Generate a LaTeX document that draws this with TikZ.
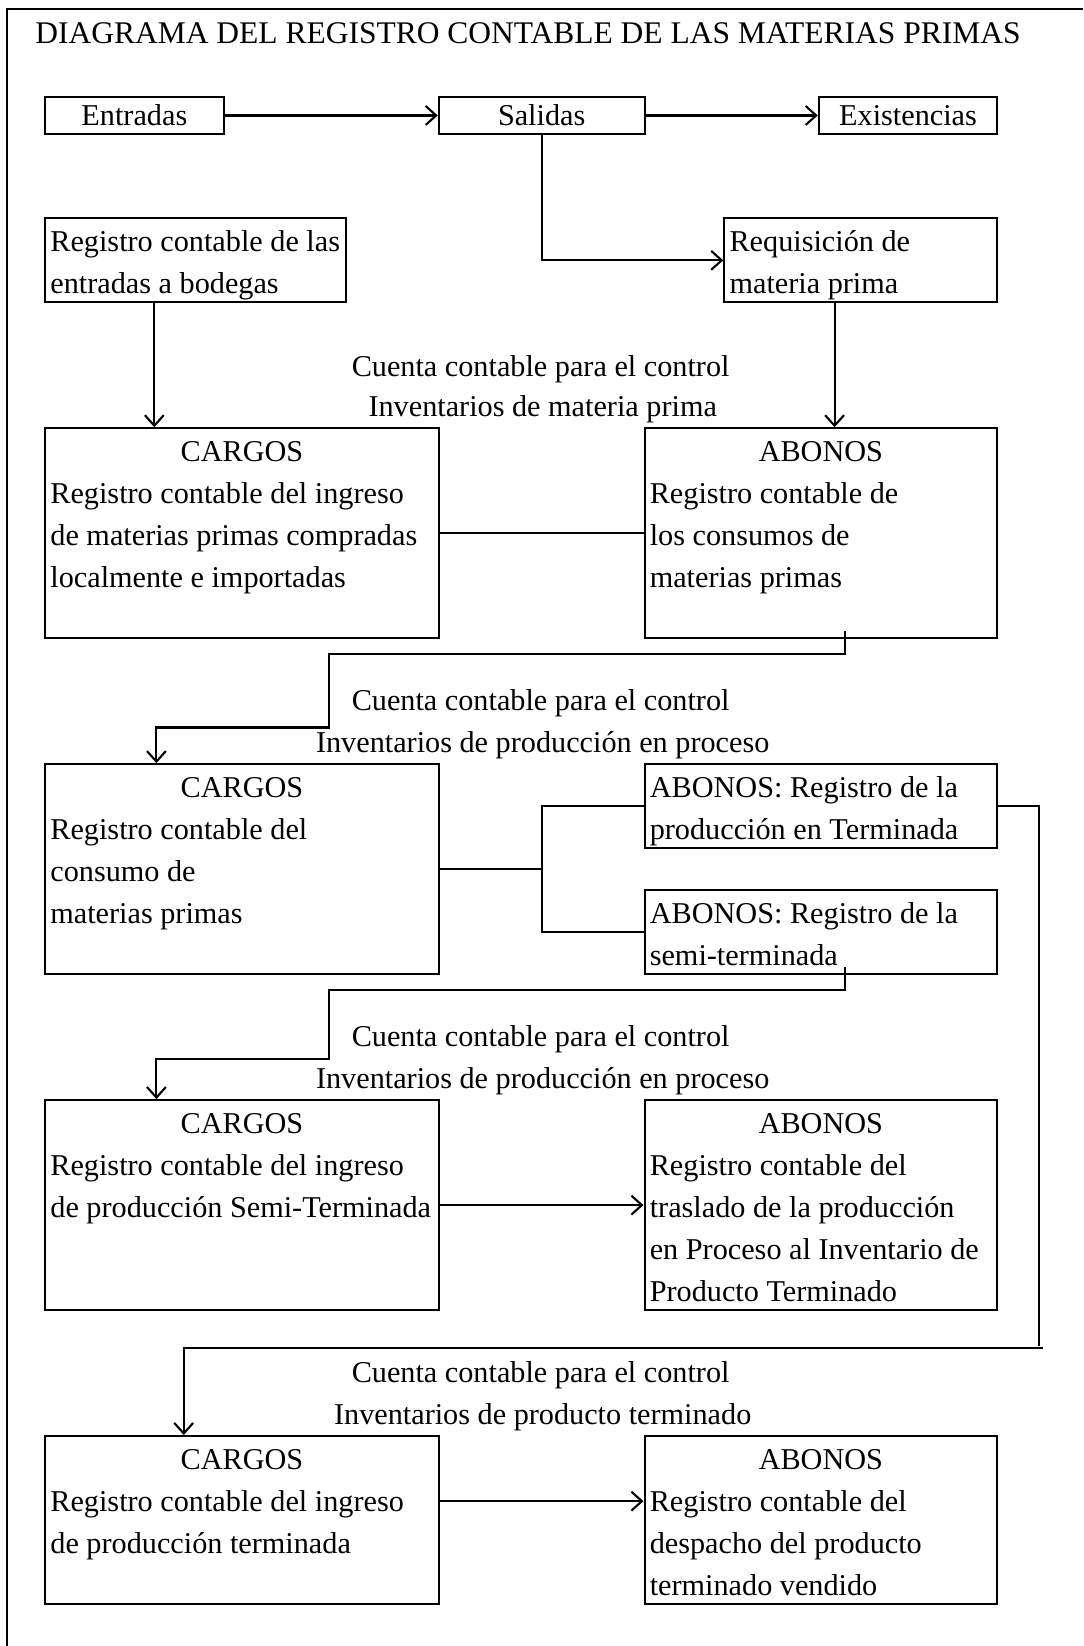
\documentclass[tikz,border=0pt]{standalone}
\usepackage{fontspec}
\setmainfont{Liberation Serif}
\usetikzlibrary{arrows.meta}

\newlength{\anchobloque}
\newcommand{\bloque}[3]{\setlength{\anchobloque}{\dimexpr#1pt-5pt\relax}%
  \makebox[\anchobloque][l]{\parbox[c][\dimexpr#2pt-5pt\relax][t]{400pt}{\raggedright\rule{0pt}{13.5pt}#3}}}
\newcommand{\encabezado}[1]{\makebox[\anchobloque]{#1}\\}

\begin{document}
\begin{tikzpicture}[x=0.5pt,y=-0.5pt,
	font=\fontsize{14.4}{20}\selectfont,
	caja/.style={draw,line width=1pt,inner sep=2.5pt},
	chica/.style={draw,line width=1pt,minimum height=18pt,inner sep=0pt},
	rotulo/.style={inner sep=0pt},
	linea/.style={line width=1pt},
	flecha/.style={line width=1pt,-{Straight Barb[length=5pt,width=9pt]}}]
	\useasboundingbox (0,0) rectangle (1032,1568);
	\draw[linea] (6.5,1568) -- (6.5,8.6) -- (1032,8.6);
	\node[rotulo,font=\fontsize{15}{20}\selectfont] (titulo) at (503,32) {DIAGRAMA DEL REGISTRO CONTABLE DE LAS MATERIAS PRIMAS};

	\node[chica,minimum width=85pt] (entradas) at (128,110) {Entradas};
	\node[chica,minimum width=98pt] (salidas) at (516,110) {Salidas};
	\node[chica,minimum width=85pt] (existencias) at (865,110) {Existencias};
	\node[caja] (bodegas) at (186.5,248) {\bloque{143.5}{40}{Registro contable de las\\entradas a bodegas}};
	\node[caja] (requisicion) at (820,248) {\bloque{130}{40}{Requisición de\\materia prima}};

	\node[rotulo] (cuentaA) at (515,352) {Cuenta contable para el control};
	\node[rotulo] (inventarioA) at (517,390) {Inventarios de materia prima};
	\node[caja] (cargosA) at (230.5,508) {\bloque{187.5}{100}{\encabezado{CARGOS}Registro contable del ingreso\\de materias primas compradas\\localmente e importadas}};
	\node[caja] (abonosA) at (782,508) {\bloque{168}{100}{\encabezado{ABONOS}Registro contable de\\los consumos de\\materias primas}};

	\node[rotulo] (cuentaB) at (515,670) {Cuenta contable para el control};
	\node[rotulo] (inventarioB) at (517,710) {Inventarios de producción en proceso};
	\node[caja] (cargosB) at (230.5,828) {\bloque{187.5}{100}{\encabezado{CARGOS}Registro contable del\\consumo de\\materias primas}};
	\node[caja] (terminadaB) at (782,768) {\bloque{168}{40}{ABONOS: Registro de la\\producción en Terminada}};
	\node[caja] (semiB) at (782,888) {\bloque{168}{40}{ABONOS: Registro de la\\semi-terminada}};

	\node[rotulo] (cuentaC) at (515,990) {Cuenta contable para el control};
	\node[rotulo] (inventarioC) at (517,1030) {Inventarios de producción en proceso};
	\node[caja] (cargosC) at (230.5,1148) {\bloque{187.5}{100}{\encabezado{CARGOS}Registro contable del ingreso\\de producción Semi-Terminada}};
	\node[caja] (abonosC) at (782,1148) {\bloque{168}{100}{\encabezado{ABONOS}Registro contable del\\traslado de la producción\\en Proceso al Inventario de\\Producto Terminado}};

	\node[rotulo] (cuentaD) at (515,1310) {Cuenta contable para el control};
	\node[rotulo] (inventarioD) at (517,1350) {Inventarios de producto terminado};
	\node[caja] (cargosD) at (230.5,1448) {\bloque{187.5}{80}{\encabezado{CARGOS}Registro contable del ingreso\\de producción terminada}};
	\node[caja] (abonosD) at (782,1448) {\bloque{168}{80}{\encabezado{ABONOS}Registro contable del\\despacho del producto\\terminado vendido}};

	\coordinate (codoA) at (313,623);
	\coordinate (rama) at ([xshift=48.5pt]cargosB.east);
	\coordinate (codoC) at (313,943);
	\coordinate (esquina) at (990,1282);
	\coordinate (retorno) at (994,1284);

	\draw[flecha] (entradas) -- (salidas);
	\draw[flecha] (salidas) -- (existencias);
	\draw[flecha] (salidas) |- (requisicion);
	\draw[flecha] ([xshift=-19.75pt]bodegas.south) -- ([xshift=-19.75pt]bodegas.south |- cargosA.north);
	\draw[flecha] ([xshift=-12.5pt]requisicion.south) -- ([xshift=-12.5pt]requisicion.south |- abonosA.north);
	\draw[linea] (cargosA) -- (abonosA);
	\draw[flecha] ([xshift=11.5pt,yshift=4pt]abonosA.south) |- (codoA) |- ([xshift=-40.75pt,yshift=17pt]cargosB.north) -- ([xshift=-40.75pt]cargosB.north);
	\draw[linea] (cargosB.east) -- (rama);
	\draw[linea] (terminadaB.west) -| (rama) |- (semiB.west);
	\draw[flecha] ([xshift=11.5pt,yshift=4pt]semiB.south) |- (codoC) |- ([xshift=-40.75pt,yshift=19pt]cargosC.north) -- ([xshift=-40.75pt]cargosC.north);
	\draw[linea] (terminadaB.east) -| (esquina);
	\draw[flecha] (retorno) -| ([xshift=-27.75pt]cargosD.north);
	\draw[flecha] (cargosC) -- (abonosC);
	\draw[flecha] ([yshift=9pt]cargosD.east) -- ([yshift=9pt]abonosD.west);
\end{tikzpicture}
\end{document}
